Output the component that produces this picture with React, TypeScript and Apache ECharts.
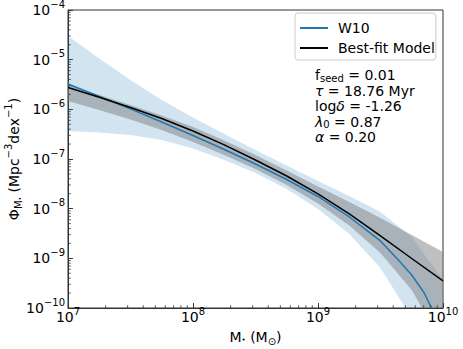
import React, { useEffect, useRef } from "react";
import * as echarts from "echarts";

const FONT = "DejaVu Sans";

// Axis limits
const xMin = 1e7;
const xMax = 1e10;
const yMin = 1e-10;
const yMax = 1e-4;

// Shared mass grid (M_sun) for the model curve and both uncertainty bands
const massGrid = [1e7, 1.78e7, 3.16e7, 5.62e7, 1e8, 1.78e8, 3.16e8, 5.62e8, 1e9, 1.78e9, 3.16e9, 5.62e9, 1e10];

// Best-fit model mass function and its band
const modelPhi = [2.75e-6, 1.75e-6, 1.09e-6, 6.54e-7, 3.66e-7, 1.92e-7, 9.55e-8, 4.55e-8, 1.98e-8, 7.82e-9, 2.82e-9, 9.93e-10, 3.5e-10];
const modelUpper = [3.09e-6, 1.94e-6, 1.22e-6, 7.52e-7, 4.41e-7, 2.36e-7, 1.2e-7, 5.87e-8, 2.8e-8, 1.36e-8, 6.49e-9, 2.95e-9, 1.34e-9];
const modelLower = [1.47e-6, 9.7e-7, 6.25e-7, 3.84e-7, 2.2e-7, 1.2e-7, 6.29e-8, 3.0e-8, 1.27e-8, 4.59e-9, 1.28e-9, 2.31e-10, 1.8e-11];

// W10 band
const w10Upper = [3.0e-5, 1.06e-5, 3.9e-6, 1.54e-6, 6.85e-7, 3.19e-7, 1.52e-7, 7.4e-8, 3.61e-8, 1.8e-8, 8.57e-9, 2.69e-9, 3.66e-10];
const w10Lower = [3.66e-7, 3.42e-7, 3.04e-7, 2.41e-7, 1.63e-7, 9.55e-8, 5.23e-8, 2.49e-8, 9.85e-9, 3.09e-9, 6.39e-10, 6.3e-11, 1.41e-12];

// W10 curve
const w10Mass = [1e7, 1.78e7, 3.16e7, 5.62e7, 1e8, 1.78e8, 3.16e8, 5.62e8, 1e9, 1.78e9, 3.16e9, 4.47e9, 5.62e9, 7.08e9, 7.94e9, 1e10];
const w10Phi = [3.24e-6, 1.81e-6, 1.02e-6, 5.56e-7, 2.97e-7, 1.55e-7, 7.93e-8, 3.87e-8, 1.76e-8, 6.8e-9, 2.24e-9, 8.84e-10, 4.62e-10, 2.0e-10, 1.1e-10, 2.27e-11];

// Minor (log) tick positions
const minorMantissas = [2, 3, 4, 5, 6, 7, 8, 9];
const xDecades = [1e7, 1e8, 1e9];
const yDecades = [1e-10, 1e-9, 1e-8, 1e-7, 1e-6, 1e-5];

const seriesNames = ["W10", "Best-fit Model"];

const paramLines = [
  "{a|f}{sub|seed}{a| = 0.01}",
  "{g|τ}{a| = 18.76 Myr}",
  "{a|log}{g|δ}{a| = -1.26}",
  "{g|λ}{sub|0}{a| = 0.87}",
  "{g|α}{a| = 0.20}",
];

const minorX = xDecades.flatMap((d) => minorMantissas.map((m) => m * d));
const minorY = yDecades.flatMap((d) => minorMantissas.map((m) => m * d));

function expLabel(v: number) {
  const e = Math.round(Math.log10(v));
  const s = e < 0 ? "\u2212" + String(-e) : String(e);
  return `{b|10}{s|${s}}`;
}

const labelRich = {
  b: { fontFamily: FONT, fontSize: 14, lineHeight: 14, color: "#000" },
  s: { fontFamily: FONT, fontSize: 10, lineHeight: 14, color: "#000", padding: [0, 0, 12, 0] },
};

function bandRenderer(fill: string) {
  return (params: any, api: any) => {
    if (params.dataIndex !== 0) return null;
    const n = massGrid.length;
    const top: number[][] = [];
    const bottom: number[][] = [];
    for (let i = 0; i < n; i++) {
      const x = api.value(0, i);
      top.push(api.coord([x, api.value(2, i)]));
      bottom.push(api.coord([x, api.value(1, i)]));
    }
    const cs = params.coordSys;
    return {
      type: "polygon",
      shape: { points: top.concat(bottom.reverse()) },
      style: { fill },
      clipPath: { type: "rect", shape: { x: cs.x, y: cs.y, width: cs.width, height: cs.height } },
    };
  };
}

export default function App() {
  const ref = useRef<HTMLDivElement>(null);
  useEffect(() => {
    if (!ref.current) return;
    const chart = echarts.init(ref.current, undefined, { renderer: "svg" });
    const textRich = {
      a: { fontFamily: FONT, fontSize: 14, lineHeight: 15.5, fill: "#000", color: "#000" },
      g: { fontFamily: FONT, fontSize: 14, lineHeight: 15.5, fontStyle: "italic", fill: "#000", color: "#000" },
      sub: { fontFamily: FONT, fontSize: 10, lineHeight: 15.5, fill: "#000", color: "#000", padding: [6, 0, 0, 0] },
    };
    const option: any = {
      animation: false,
      backgroundColor: "#ffffff",
      grid: {
        left: 68,
        top: 10,
        right: 20,
        bottom: 41,
        containLabel: false,
        outerBoundsMode: "none",
        show: true,
        borderColor: "#333",
        borderWidth: 1,
        backgroundColor: "transparent",
      },
      legend: {
        data: seriesNames,
        orient: "vertical",
        left: 295,
        top: 13,
        itemWidth: 28,
        itemHeight: 14,
        itemGap: 6,
        padding: [8, 1, 5, 4],
        backgroundColor: "rgba(255,255,255,0.8)",
        borderColor: "#cccccc",
        borderWidth: 1,
        borderRadius: 3,
        itemStyle: { opacity: 0 },
        textStyle: { fontFamily: FONT, fontSize: 14, color: "#000", padding: [0, 0, 0, 5] },
      },
      xAxis: {
        type: "log",
        logBase: 10,
        min: xMin,
        max: xMax,
        name: "{a|M}{d|•}{a| (M}{s|⊙}{a|)}",
        nameLocation: "middle",
        nameGap: 22,
        nameMoveOverlap: false,
        nameTextStyle: {
          rich: {
            a: { fontFamily: FONT, fontSize: 14, lineHeight: 14, color: "#000" },
            d: { fontFamily: FONT, fontSize: 7, lineHeight: 14, color: "#000", padding: [6, 0, 0, 0] },
            s: { fontFamily: FONT, fontSize: 10, lineHeight: 14, color: "#000", padding: [8, 0, 0, 0] },
          },
        },
        axisLine: { show: true, lineStyle: { color: "#333", width: 1 } },
        axisTick: { show: true, inside: true, length: 4.9, lineStyle: { color: "#333", width: 1 } },
        splitLine: { show: false },
        axisLabel: { margin: 2, formatter: expLabel, rich: labelRich },
      },
      yAxis: {
        type: "log",
        logBase: 10,
        min: yMin,
        max: yMax,
        name: "{a|Φ}{s|M}{d|•}{a| (Mpc}{p|\u22123}{a|dex}{p|\u22121}{a|)}",
        nameLocation: "middle",
        nameRotate: 90,
        nameGap: 47,
        nameMoveOverlap: false,
        nameTextStyle: {
          rich: {
            a: { fontFamily: FONT, fontSize: 14, lineHeight: 14, color: "#000" },
            s: { fontFamily: FONT, fontSize: 10, lineHeight: 14, color: "#000", padding: [8, 0, 0, 0] },
            d: { fontFamily: FONT, fontSize: 6, lineHeight: 14, color: "#000", padding: [10, 0, 0, 0] },
            p: { fontFamily: FONT, fontSize: 10, lineHeight: 14, color: "#000", padding: [0, 0, 12, 0] },
          },
        },
        axisLine: { show: true, lineStyle: { color: "#333", width: 1 } },
        axisTick: { show: true, inside: true, length: 4.9, lineStyle: { color: "#333", width: 1 } },
        splitLine: { show: false },
        axisLabel: { margin: 3, formatter: expLabel, rich: labelRich },
      },
      graphic: [
        {
          type: "text",
          x: 315,
          y: 67.5,
          style: {
            text: paramLines.join("\n"),
            rich: textRich,
            fontFamily: FONT,
            fontSize: 14,
            lineHeight: 15.5,
            fill: "#000",
            verticalAlign: "top",
          },
          z: 10,
        },
      ],
      series: [
        {
          type: "custom",
          name: "W10 band",
          coordinateSystem: "cartesian2d",
          data: massGrid.map((m, i) => [m, w10Lower[i], w10Upper[i]]),
          encode: { x: 0, y: [1, 2] },
          renderItem: bandRenderer("rgba(31,119,180,0.2)"),
          clip: true,
          silent: true,
          z: 1,
        },
        {
          type: "custom",
          name: "Model band",
          coordinateSystem: "cartesian2d",
          data: massGrid.map((m, i) => [m, modelLower[i], modelUpper[i]]),
          encode: { x: 0, y: [1, 2] },
          renderItem: bandRenderer("rgba(128,128,128,0.5)"),
          clip: true,
          silent: true,
          z: 2,
        },
        {
          type: "line",
          name: seriesNames[0],
          data: w10Mass.map((m, i) => [m, w10Phi[i]]),
          symbol: "none",
          clip: true,
          lineStyle: { color: "#1f77b4", width: 1.5 },
          itemStyle: { color: "#1f77b4" },
          z: 3,
        },
        {
          type: "line",
          name: seriesNames[1],
          data: massGrid.map((m, i) => [m, modelPhi[i]]),
          symbol: "none",
          clip: true,
          lineStyle: { color: "#000000", width: 1.5 },
          itemStyle: { color: "#000000" },
          z: 4,
        },
        {
          type: "custom",
          name: "x minor ticks",
          coordinateSystem: "cartesian2d",
          data: minorX.map((v) => [v, yMin]),
          renderItem: (params: any, api: any) => {
            const p = api.coord([api.value(0), api.value(1)]);
            return {
              type: "line",
              shape: { x1: p[0], y1: p[1], x2: p[0], y2: p[1] - 2.8 },
              style: { stroke: "#333", lineWidth: 0.8 },
            };
          },
          silent: true,
          z: 5,
        },
        {
          type: "custom",
          name: "y minor ticks",
          coordinateSystem: "cartesian2d",
          data: minorY.map((v) => [xMin, v]),
          renderItem: (params: any, api: any) => {
            const p = api.coord([api.value(0), api.value(1)]);
            return {
              type: "line",
              shape: { x1: p[0], y1: p[1], x2: p[0] + 2.8, y2: p[1] },
              style: { stroke: "#333", lineWidth: 0.8 },
            };
          },
          silent: true,
          z: 5,
        },
      ],
    };
    chart.setOption(option);
    return () => chart.dispose();
  }, []);
  return (
    <div
      ref={ref}
      style={{ position: "fixed", left: 0, top: 0, width: 463, height: 349, background: "#fff" }}
    />
  );
}
